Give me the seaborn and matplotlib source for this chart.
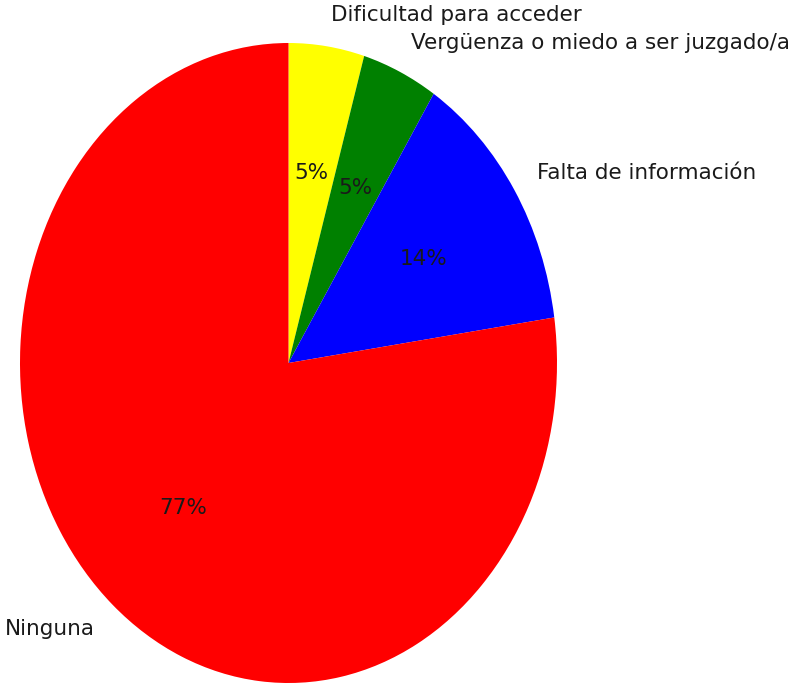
import matplotlib
matplotlib.use("Agg")
import matplotlib.pyplot as plt
import seaborn as sns

sns.set_theme(style="white")
plt.rcParams['font.family'] = ['DejaVu Sans']

labels = ["Dificultad para acceder", "Vergüenza o miedo a ser juzgado/a",
          "Falta de información", "Ninguna"]
counts = [1, 1, 3, 17]
colors = ["yellow", "green", "blue", "red"]

fig = plt.figure(figsize=(8.09, 6.87), dpi=100)
ax = fig.add_axes([20 / 809, 4 / 687, 537 / 809, 640 / 687])

wedges, texts, autotexts = ax.pie(
    counts, labels=labels, colors=colors, autopct="%.0f%%",
    startangle=90, counterclock=False,
    wedgeprops={"linewidth": 0},
    textprops={"fontsize": 15.5, "color": "#1a1a1a"},
)
ax.set_aspect("auto")
ax.set_xlim(-1, 1)
ax.set_ylim(-1, 1)
for t in texts + autotexts:
    t.set_clip_on(False)

fig.savefig("out.png", dpi=100)
